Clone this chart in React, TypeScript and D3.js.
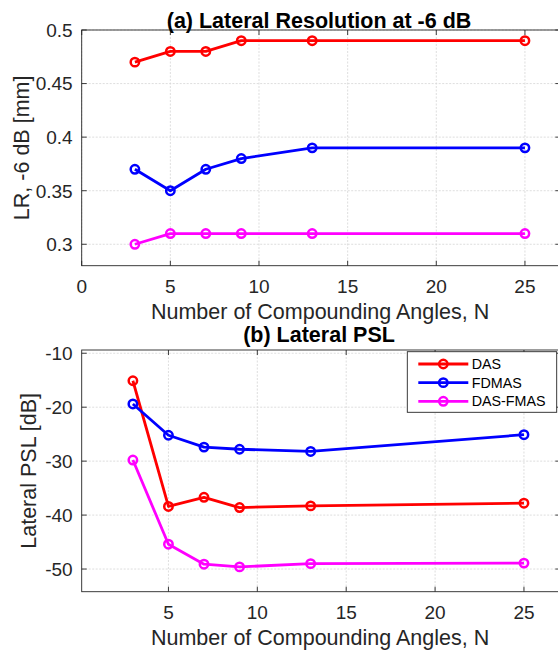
import React from "react";
import * as d3 from "d3";

const angles = [3, 5, 7, 9, 13, 25];
const seriesNames = ["DAS", "FDMAS", "DAS-FMAS"];
const seriesColors = ["#ff0000", "#0000ff", "#ff00ff"];

const lrDAS = [0.47, 0.48, 0.48, 0.49, 0.49, 0.49];
const lrFDMAS = [0.37, 0.35, 0.37, 0.38, 0.39, 0.39];
const lrDASFMAS = [0.3, 0.31, 0.31, 0.31, 0.31, 0.31];

const pslDAS = [-15.1, -38.4, -36.7, -38.6, -38.3, -37.8];
const pslFDMAS = [-19.4, -25.2, -27.4, -27.8, -28.2, -25.1];
const pslDASFMAS = [-29.8, -45.4, -49.1, -49.6, -49.0, -48.9];

const topXTicks = [0, 5, 10, 15, 20, 25];
const topYTicks = [0.3, 0.35, 0.4, 0.45, 0.5];
const topYTickLabels = ["0.3", "0.35", "0.4", "0.45", "0.5"];
const botXTicks = [5, 10, 15, 20, 25];
const botYTicks = [-50, -40, -30, -20, -10];
const botYTickLabels = ["-50", "-40", "-30", "-20", "-10"];

const FONT = "'Liberation Sans', Arial, Helvetica, sans-serif";
const AX = "#262626";
const GRID = "#d6d6d6";

type PanelProps = {
  top: number;
  bottom: number;
  xDomain: [number, number];
  yDomain: [number, number];
  xTicks: number[];
  yTicks: number[];
  yTickLabels: string[];
  series: number[][];
  title: string;
  titleY: number;
  yLabel: string;
  yLabelX: number;
  legend?: boolean;
};

const LEFT = 81.7;
const RIGHT = 560.4;

function Panel(p: PanelProps) {
  const x = d3.scaleLinear().domain(p.xDomain).range([LEFT, RIGHT]);
  const y = d3.scaleLinear().domain(p.yDomain).range([p.bottom, p.top]);
  const line = d3
    .line<[number, number]>()
    .x((d) => x(d[0]))
    .y((d) => y(d[1]));
  const tl = 5;
  const cx = (LEFT + RIGHT) / 2;
  const cy = (p.top + p.bottom) / 2;
  return (
    <g>
      {p.xTicks.map((t) => (
        <line key={"gx" + t} x1={x(t)} x2={x(t)} y1={p.top} y2={p.bottom} stroke={GRID} strokeWidth={0.8} strokeDasharray="2,1.5" />
      ))}
      {p.yTicks.map((t) => (
        <line key={"gy" + t} x1={LEFT} x2={RIGHT} y1={y(t)} y2={y(t)} stroke={GRID} strokeWidth={0.8} strokeDasharray="2,1.5" />
      ))}
      {p.series.map((vals, i) => {
        const pts = angles.map((a, j) => [a, vals[j]] as [number, number]);
        return (
          <g key={"s" + i}>
            <path d={line(pts) || ""} fill="none" stroke={seriesColors[i]} strokeWidth={2.8} strokeLinejoin="round" />
            {pts.map((pt, j) => (
              <circle key={j} cx={x(pt[0])} cy={y(pt[1])} r={4.2} fill="none" stroke={seriesColors[i]} strokeWidth={2.5} />
            ))}
          </g>
        );
      })}
      <rect x={LEFT} y={p.top} width={RIGHT - LEFT} height={p.bottom - p.top} fill="none" stroke={AX} strokeWidth={0.9} />
      {p.xTicks.map((t) => (
        <g key={"tx" + t}>
          <line x1={x(t)} x2={x(t)} y1={p.bottom} y2={p.bottom - tl} stroke={AX} strokeWidth={0.9} />
          <line x1={x(t)} x2={x(t)} y1={p.top} y2={p.top + tl} stroke={AX} strokeWidth={0.9} />
          <text x={x(t)} y={p.bottom + 27} textAnchor="middle" fontSize={19} fill={AX} fontFamily={FONT}>
            {t}
          </text>
        </g>
      ))}
      {p.yTicks.map((t, i) => (
        <g key={"ty" + t}>
          <line x1={LEFT} x2={LEFT + tl} y1={y(t)} y2={y(t)} stroke={AX} strokeWidth={0.9} />
          <line x1={RIGHT} x2={RIGHT - tl} y1={y(t)} y2={y(t)} stroke={AX} strokeWidth={0.9} />
          <text x={LEFT - 9} y={y(t) + 6.8} textAnchor="end" fontSize={19} fill={AX} fontFamily={FONT}>
            {p.yTickLabels[i]}
          </text>
        </g>
      ))}
      <text x={cx - 1} y={p.bottom + 53.5} textAnchor="middle" fontSize={21.5} fill={AX} fontFamily={FONT}>
        Number of Compounding Angles, N
      </text>
      <text
        transform={`translate(${p.yLabelX},${cy}) rotate(-90)`}
        textAnchor="middle"
        fontSize={21.5}
        fill={AX}
        fontFamily={FONT}
      >
        {p.yLabel}
      </text>
      <text x={cx - 2} y={p.titleY} textAnchor="middle" fontSize={21.5} fontWeight="bold" fill="#000" fontFamily={FONT}>
        {p.title}
      </text>
      {p.legend && (
        <g>
          <rect x={407.3} y={351.7} width={149.4} height={60.6} fill="#fff" stroke={AX} strokeWidth={0.9} />
          {seriesNames.map((name, i) => {
            const ly = 364 + i * 18.65;
            return (
              <g key={name}>
                <line x1={418.3} x2={468.3} y1={ly} y2={ly} stroke={seriesColors[i]} strokeWidth={2.8} />
                <circle cx={443.3} cy={ly} r={4.2} fill="none" stroke={seriesColors[i]} strokeWidth={2.5} />
                <text x={471.7} y={ly + 5} fontSize={14.3} fill="#000" fontFamily={FONT}>
                  {name}
                </text>
              </g>
            );
          })}
        </g>
      )}
    </g>
  );
}

export default function App() {
  return (
    <svg
      width={558}
      height={656}
      viewBox="0 0 558 656"
      style={{ position: "absolute", left: 0, top: 0, display: "block", background: "#fff" }}
    >
      <rect x={0} y={0} width={558} height={656} fill="#fff" />
      <Panel
        top={30}
        bottom={265.7}
        xDomain={[0, 27]}
        yDomain={[0.28, 0.5]}
        xTicks={topXTicks}
        yTicks={topYTicks}
        yTickLabels={topYTickLabels}
        series={[lrDAS, lrFDMAS, lrDASFMAS]}
        title="(a) Lateral Resolution at -6 dB"
        titleY={28}
        yLabel="LR, -6 dB [mm]"
        yLabelX={28.5}
      />
      <Panel
        top={350}
        bottom={591.7}
        xDomain={[0.12, 27.05]}
        yDomain={[-54.2, -9.4]}
        xTicks={botXTicks}
        yTicks={botYTicks}
        yTickLabels={botYTickLabels}
        series={[pslDAS, pslFDMAS, pslDASFMAS]}
        title="(b) Lateral PSL"
        titleY={342}
        yLabel="Lateral PSL [dB]"
        yLabelX={36}
        legend
      />
    </svg>
  );
}
